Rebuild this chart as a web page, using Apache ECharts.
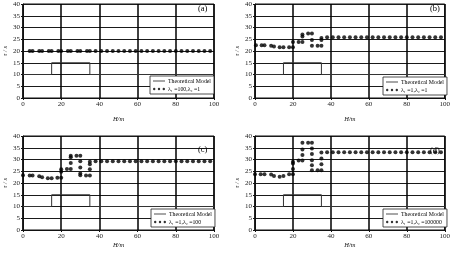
<!DOCTYPE html>
<html><head><meta charset="utf-8">
<script src="https://cdn.jsdelivr.net/npm/echarts@6/dist/echarts.min.js"></script>
<style>html,body{margin:0;padding:0;background:#fff}#c{width:453px;height:254px}</style>
</head><body><div id="c"></div>
<script>
const xTicks = [0, 20, 40, 60, 80, 100];
const yTicks = [0, 5, 10, 15, 20, 25, 30, 35, 40];
const panelLabels = ['(a)', '(b)', '(c)', '(d)'];
const theoryName = 'Theoretical Model';
const seriesNames = ['λ₁ =100,λ₂ =1', 'λ₁ =1,λ₂ =1', 'λ₁ =1,λ₂ =100', 'λ₁ =1,λ₂ =100000'];

const theoryX = [0, 15, 15, 35, 35, 100];
const theoryY = [10, 10, 15, 15, 10, 10];

const aX = [3.5,5,8.5,10,13.5,15,18.5,20,23.5,25,28.5,30,33.5,35,38,41,44,47,50,53,56,59,62,65,68,71,74,77,80,83,86,89,92,95,98];
const aY = [20,20,20,20,20,20,20,20,20,20,20,20,20,20,20,20,20,20,20,20,20,20,20,20,20,20,20,20,20,20,20,20,20,20,20];

const bX = [0.5,3.5,5,8.5,10,13,15,18,20,20,23,25,25,25,28,30,30,30,33,35,35,35,38,41,44,47,50,53,56,59,62,65,68,71,74,77,80,83,86,89,92,95,98];
const bY = [22.4,22.4,22.4,22.2,21.9,21.6,21.6,21.6,21.6,23.8,23.8,23.8,26.2,27,27.4,27.4,24.7,22.2,22.2,22.2,24.7,25.5,25.8,25.8,25.8,25.8,25.8,25.8,25.8,25.8,25.8,25.8,25.8,25.8,25.8,25.8,25.8,25.8,25.8,25.8,25.8,25.8,25.8];

const cX = [0,3.5,5,8.5,10,13,15,18,20,20,20,23,25,25,25,25,28,30,30,30,30,30,33,35,35,35,35,38,41,44,47,50,53,56,59,62,65,68,71,74,77,80,83,86,89,92,95,98];
const cY = [23.3,23.2,23.2,22.9,22.4,22,22,22.2,22.2,24.8,25.8,26,26,28.5,31,31.6,31.6,31.6,29.3,26.6,24,23.3,23.2,23.2,25.8,28,29,29.3,29.3,29.3,29.3,29.3,29.3,29.3,29.3,29.3,29.3,29.3,29.3,29.3,29.3,29.3,29.3,29.3,29.3,29.3,29.3,29.3];

const dX = [0,3,5,8.5,10,13,15,18,20,20,20,20,23,25,25,25,25,28,30,30,30,30,30,30,33,35,35,35,35,38,41,44,47,50,53,56,59,62,65,68,71,74,77,80,83,86,89,92,95,98];
const dY = [23.7,23.7,23.7,23.6,23,22.7,23,23.7,23.7,26,28.3,29,29.6,29.6,31.9,34.3,37.1,37.1,37.1,34.7,32.3,29.7,27.6,25.4,25.4,25.4,28,30.4,33,33.1,33.1,33.1,33.1,33.1,33.1,33.1,33.1,33.1,33.1,33.1,33.1,33.1,33.1,33.1,33.1,33.1,33.1,33.1,33.1,33.1];

const panelX = [aX, bX, cX, dX];
const panelY = [aY, bY, cY, dY];

const font = 'Liberation Serif';
const grids = [
  {left: 23, top: 4, width: 191, height: 94},
  {left: 255, top: 4, width: 192, height: 94},
  {left: 23, top: 136, width: 191, height: 94},
  {left: 255, top: 136, width: 192, height: 94}
];
const nameGaps = [18, 18, 12, 12];
const legendPos = [[150, 76], [383, 77], [151, 209], [383, 209]];
const labelPos = [[198, 4], [430, 4], [198, 145], [430, 146]];

const dotsIcon = 'path://M0,1a1,1 0 1,0 2,0a1,1 0 1,0 -2,0M4,1a1,1 0 1,0 2,0a1,1 0 1,0 -2,0M8,1a1,1 0 1,0 2,0a1,1 0 1,0 -2,0';

const option = {
  animation: false,
  backgroundColor: '#fff',
  textStyle: {fontFamily: font},
  grid: grids.map(g => Object.assign({show: true, borderColor: '#111', borderWidth: 1, backgroundColor: 'transparent'}, g)),
  title: panelLabels.map((t, i) => ({text: t, left: labelPos[i][0], top: labelPos[i][1], padding: 0,
    textStyle: {fontFamily: font, fontSize: 8.5, fontWeight: 'normal', fontStyle: 'normal', color: '#000'}})),
  xAxis: grids.map((g, i) => ({
    type: 'value', gridIndex: i, min: 0, max: 100, interval: 20,
    name: 'H/m', nameLocation: 'middle', nameGap: nameGaps[i],
    nameTextStyle: {fontFamily: font, fontSize: 6.5, fontStyle: 'italic', color: '#111'},
    axisLine: {show: true, lineStyle: {color: '#111', width: 1}},
    axisTick: {show: true, length: 2, lineStyle: {color: '#111'}},
    axisLabel: {fontFamily: font, fontSize: 7, color: '#222', margin: 3,
      formatter: v => xTicks.includes(v) ? String(v) : ''},
    splitLine: {show: true, lineStyle: {color: '#000', width: 1.5}}
  })),
  yAxis: grids.map((g, i) => ({
    type: 'value', gridIndex: i, min: 0, max: 40, interval: 5,
    name: 'τ / s', nameLocation: 'middle', nameGap: 13, nameRotate: 90,
    nameTextStyle: {fontFamily: font, fontSize: 6.5, fontStyle: 'italic', color: '#111'},
    axisLine: {show: true, lineStyle: {color: '#111', width: 1}},
    axisTick: {show: true, length: 2, lineStyle: {color: '#111'}},
    axisLabel: {fontFamily: font, fontSize: 7, color: '#222', margin: 3,
      formatter: v => yTicks.includes(v) ? String(v) : ''},
    splitLine: {show: true, lineStyle: {color: '#1a1a1a', width: 1}}
  })),
  legend: grids.map((g, i) => ({
    left: legendPos[i][0], top: legendPos[i][1], orient: 'vertical',
    width: 63,
    backgroundColor: '#fff', borderColor: '#222', borderWidth: 0.8,
    padding: [2, 3, 2, 3], itemGap: 2, itemWidth: 12, itemHeight: 4,
    selectedMode: false,
    textStyle: {fontFamily: font, fontSize: 5.8, color: '#000', padding: [0, 0, 0, -2]},
    data: [
      {name: theoryName, icon: 'path://M0,0H12V0.8H0Z', itemStyle: {color: '#222'}},
      {name: seriesNames[i], icon: dotsIcon}
    ]
  })),
  series: []
};

for (let i = 0; i < 4; i++) {
  option.series.push({
    name: theoryName, type: 'line', xAxisIndex: i, yAxisIndex: i,
    data: theoryX.map((x, k) => [x, theoryY[k]]),
    showSymbol: false, symbol: 'none',
    lineStyle: {color: '#333', width: 1}, itemStyle: {color: '#222'}, z: 3
  });
  option.series.push({
    name: seriesNames[i], type: 'scatter', xAxisIndex: i, yAxisIndex: i,
    data: panelX[i].map((x, k) => [x, panelY[i][k]]),
    symbol: 'circle', symbolSize: 4,
    itemStyle: {color: '#000'}, z: 4
  });
}

const chart = echarts.init(document.getElementById('c'), null, {renderer: 'canvas'});
chart.setOption(option);
</script>
</body></html>
